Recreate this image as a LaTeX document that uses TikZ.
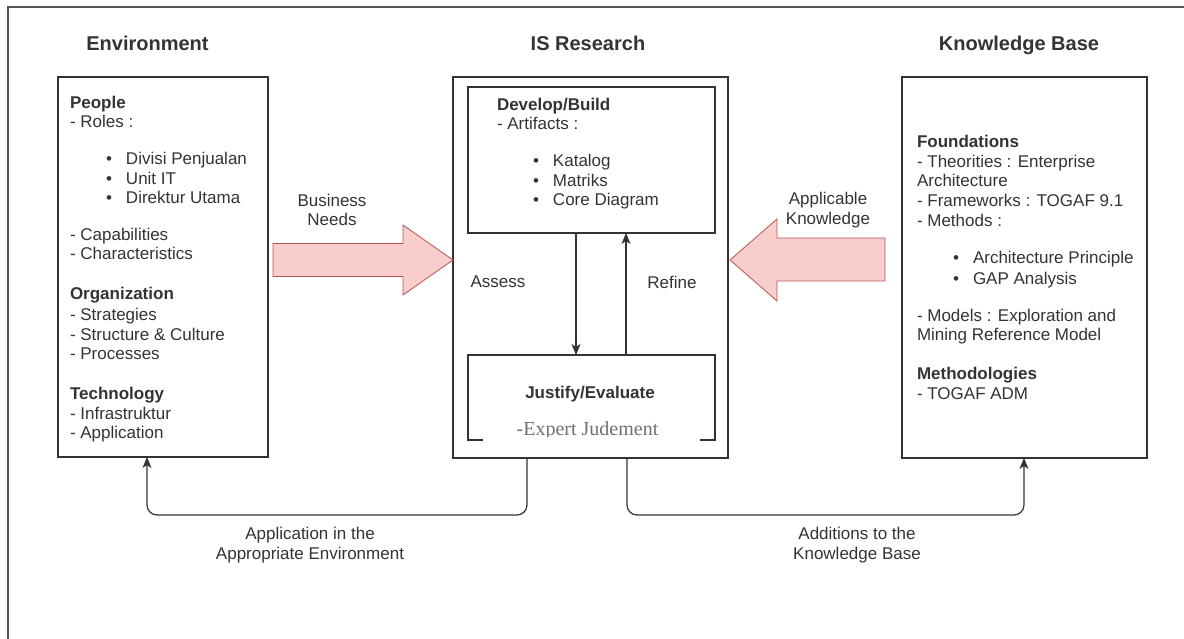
\documentclass[tikz,border=0pt]{standalone}
\usepackage{fontspec}
\setmainfont{Liberation Sans}
\newfontfamily\judfont{Liberation Serif}
\usetikzlibrary{arrows.meta}
\definecolor{ink}{HTML}{333333}
\definecolor{edge}{HTML}{333333}
\definecolor{pinkfill}{HTML}{F8CECC}
\definecolor{pinkline}{HTML}{B85450}
\definecolor{framegray}{HTML}{555555}
\definecolor{judgray}{HTML}{707070}
% bullet item: indented dot, then the text
\newcommand{\bitem}[1]{\hspace*{36pt}\makebox[20pt][l]{\textbullet}#1}

\begin{document}
\begin{tikzpicture}[x=1pt,y=-1pt,
  txt/.style={inner sep=0pt, outer sep=0pt, text=ink, font=\fontsize{17}{19.6}\selectfont},
  line/.style={txt, anchor=base west},
  title/.style={txt, anchor=base, font=\fontsize{20}{24}\selectfont\bfseries},
  box/.style={draw=edge, line width=1.2pt, inner sep=0pt, outer sep=0pt, rectangle},
  flow/.style={draw=edge, line width=1.2pt, -{Stealth[length=11pt,width=9pt,inset=3pt]}},
  bigarrow/.style={fill=pinkfill, draw=pinkline, line width=0.8pt, line join=miter}
]
\useasboundingbox (0,0) rectangle (1184,639);

% outer frame (top and left edges)
\draw[framegray, line width=1.5pt] (8,639) -- (8,7) -- (1184,7);

% column titles
\node[title] (tenv) at (147.5,51) {Environment};
\node[title] (tis)  at (588,51)   {IS Research};
\node[title] (tkb)  at (1019,51)  {Knowledge Base};

% main boxes
\node[box, minimum width=210pt, minimum height=380pt] (env) at (163,267) {};
\node[box, minimum width=275pt, minimum height=381pt] (isr) at (590.5,267.5) {};
\node[box, minimum width=245pt, minimum height=381pt] (kb)  at (1024.5,267.5) {};
\node[box, minimum width=247pt, minimum height=146pt] (dev) at (591.5,160) {};
\node[inner sep=0pt, outer sep=0pt, minimum width=247pt, minimum height=85pt] (jus) at (591.5,397.5) {};
\draw[edge, line width=1.2pt] ([xshift=15pt]jus.south west) -- (jus.south west) -- (jus.north west)
  -- (jus.north east) -- (jus.south east) -- ([xshift=-15pt]jus.south east);

% Environment contents
\foreach \y/\t [count=\i] in {
  109/{\textbf{People}},
  128/{- Roles :},
  165/{\bitem{Divisi Penjualan}},
  185/{\bitem{Unit IT}},
  204/{\bitem{Direktur Utama}},
  241/{- Capabilities},
  260/{- Characteristics},
  300/{\textbf{Organization}},
  320/{- Strategies},
  340/{- Structure \& Culture},
  359/{- Processes},
  399/{\textbf{Technology}},
  419/{- Infrastruktur},
  438/{- Application}}
  \node[line] (envl\i) at (70,\y) {\t};

% Develop/Build contents
\foreach \y/\t [count=\i] in {
  111/{\textbf{Develop/Build}},
  130/{- Artifacts :},
  167/{\bitem{Katalog}},
  187/{\bitem{Matriks}},
  206/{\bitem{Core Diagram}}}
  \node[line] (devl\i) at (497,\y) {\t};

% Knowledge Base contents
\foreach \y/\t [count=\i] in {
  148/{\textbf{Foundations}},
  168/{- Theorities : Enterprise},
  187/{Architecture},
  207/{- Frameworks : TOGAF 9.1},
  227/{- Methods :},
  264/{\bitem{Architecture Principle}},
  284/{\bitem{GAP Analysis}},
  321/{- Models : Exploration and},
  340/{Mining Reference Model},
  379/{\textbf{Methodologies}},
  399/{- TOGAF ADM}}
  \node[line] (kbl\i) at (917,\y) {\t};

% Justify/Evaluate contents
\node[txt, anchor=base, font=\fontsize{17}{19.6}\selectfont\bfseries] (justitle) at (590,398) {Justify/Evaluate};
\begin{scope}
  \clip (470,400) rectangle (713,436);
  \node[inner sep=0pt, anchor=base, text=judgray, font=\judfont\fontsize{20}{24}\selectfont] (expert) at (587.5,435) {-Expert Judement};
\end{scope}

% assess / refine loop
\coordinate (ax) at (576,0);
\coordinate (rx) at (626,0);
\draw[flow] (ax |- dev.south) -- (ax |- jus.north);
\draw[flow] (rx |- jus.north) -- (rx |- dev.south);
\node[txt] (assess) at (498,282) {Assess};
\node[txt] (refine) at (672,282) {Refine};

% big input arrows
\draw[bigarrow] (273,243.5) -- (403,243.5) -- (403,225) -- (isr.west |- 0,260) -- (403,295) -- (403,276.5) -- (273,276.5) -- cycle;
\draw[bigarrow] (885,238) -- (777,238) -- (777,219) -- (730,260) -- (777,301) -- (777,281) -- (885,281) -- cycle;
\node[txt, align=center] (needs) at (332,210) {Business\\Needs};
\node[txt, align=center] (appk) at (828,210) {Applicable\\Knowledge};

% feedback connectors below
\coordinate (outl) at (527,0);
\coordinate (inl)  at (147,0);
\coordinate (outr) at (627,0);
\coordinate (inr)  at (1024,0);
\draw[flow, rounded corners=10pt] (outl |- isr.south) -- (527,515) -- (147,515) -- (inl |- env.south);
\draw[flow, rounded corners=10pt] (outr |- isr.south) -- (627,515) -- (1024,515) -- (inr |- kb.south);
\node[txt, align=center] (applbl) at (310,545) {Application in the\\Appropriate Environment};
\node[txt, align=center] (addlbl) at (857,545) {Additions to the\\Knowledge Base};
\end{tikzpicture}
\end{document}
